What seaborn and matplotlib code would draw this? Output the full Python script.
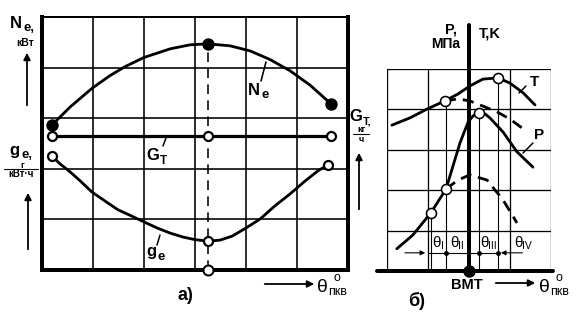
import numpy as np
import pandas as pd
import seaborn as sns
import matplotlib
matplotlib.use("Agg")
import matplotlib.pyplot as plt

sns.set_style("white")
plt.rcParams['font.family'] = ['Liberation Sans', 'DejaVu Sans']

# ---------------- panel a) data (grid units: 6 columns x 5 rows) -------------
ne_x = [0.20, 0.55, 0.98, 1.33, 1.63, 2.00, 2.51, 2.90, 3.25, 3.69, 4.08, 4.47, 4.86, 5.26, 5.67]
ne_y = [2.87, 3.22, 3.59, 3.84, 4.02, 4.20, 4.37, 4.45, 4.47, 4.43, 4.33, 4.16, 3.94, 3.65, 3.28]
gt_x = [0.20, 3.25, 5.67]
gt_y = [2.65, 2.65, 2.65]
ge_x = [0.20, 0.35, 0.55, 0.75, 0.98, 1.24, 1.49, 1.75, 2.00, 2.26, 2.51, 2.77, 3.00, 3.25,
        3.49, 3.73, 4.00, 4.28, 4.57, 4.86, 5.16, 5.41, 5.61]
ge_y = [2.25, 2.10, 1.94, 1.76, 1.54, 1.36, 1.19, 1.07, 0.95, 0.83, 0.73, 0.65, 0.60, 0.57,
        0.59, 0.67, 0.83, 1.01, 1.27, 1.50, 1.76, 1.96, 2.08]
opt_x = 3.25

# ---------------- panel б) data (x: grid columns around TDC, y: rows) --------
t_x = [-1.88, -1.44, -1.02, -0.59, -0.27, 0.02, 0.34, 0.71, 1.00, 1.32, 1.61]
t_y = [3.61, 3.79, 4.01, 4.21, 4.38, 4.58, 4.75, 4.78, 4.65, 4.41, 4.11]
t0_x = [-0.59, -0.27, 0.02, 0.34, 0.68, 1.00, 1.32]
t0_y = [4.21, 4.26, 4.21, 4.08, 3.94, 3.76, 3.52]
p_x = [-1.76, -1.37, -0.93, -0.56, -0.42, -0.22, -0.02, 0.10, 0.24, 0.39, 0.51, 0.83, 1.17, 1.56]
p_y = [0.55, 0.89, 1.44, 2.03, 2.50, 3.17, 3.69, 3.84, 3.91, 3.89, 3.79, 3.44, 2.95, 2.57]
p0_x = [-0.56, -0.27, 0.02, 0.44, 0.83, 1.17]
p0_y = [2.03, 2.25, 2.38, 2.25, 1.76, 1.19]
phase_x = [-0.93, -0.56, 0.24, 0.71]          # ends of phases θI..θIV
phase_top = [1.44, 4.21, 3.91, 4.78]
phase_labels = ["I", "II", "III", "IV"]
phase_lab_x = [-0.89, -0.46, 0.27, 1.10]      # left edge of each label

W, H = 586, 326
fig = plt.figure(figsize=(W / 100, H / 100), dpi=100)

def fa(l, r, t, b):
    return [l / W, (H - b) / H, (r - l) / W, (b - t) / H]

PX = 0.72  # points per pixel
K = 'black'

# ---------------- panel a ----------------
ax1 = fig.add_axes(fa(42, 348, 17, 270))
ax1.set_xlim(0, 6)
ax1.set_ylim(0, 5)
ax1.set_xticks(range(7))
ax1.set_yticks(range(6))
ax1.grid(True, color=K, lw=1.6 * PX)
ax1.tick_params(length=0, labelbottom=False, labelleft=False)
for s, w in [('left', 4), ('bottom', 4), ('right', 4), ('top', 2)]:
    ax1.spines[s].set_visible(True)
    ax1.spines[s].set_color(K)
    ax1.spines[s].set_linewidth(w * PX)

ax1.plot([opt_x, opt_x], [0, ne_y[8]], color=K, lw=1.6 * PX, dashes=(6, 4))
sns.lineplot(x=ne_x, y=ne_y, ax=ax1, color=K, lw=2.8 * PX, sort=False, estimator=None)
sns.lineplot(x=gt_x, y=gt_y, ax=ax1, color=K, lw=3.2 * PX, sort=False, estimator=None)
sns.lineplot(x=ge_x, y=ge_y, ax=ax1, color=K, lw=2.8 * PX, sort=False, estimator=None)
ax1.plot([ne_x[0], ne_x[8], ne_x[-1]], [ne_y[0], ne_y[8], ne_y[-1]], 'o', color=K, ms=11 * PX, zorder=5, clip_on=False)
ax1.plot(gt_x, gt_y, 'o', mfc='white', mec=K, mew=2.2 * PX, ms=9 * PX, zorder=5, clip_on=False)
ax1.plot([ge_x[0], ge_x[13], ge_x[-1]], [ge_y[0], ge_y[13], ge_y[-1]], 'o', mfc='white', mec=K, mew=2.2 * PX, ms=9 * PX, zorder=5, clip_on=False)
ax1.plot([opt_x], [0], 'o', mfc='white', mec=K, mew=2 * PX, ms=10 * PX, zorder=6, clip_on=False)

# ---------------- panel б ----------------
ax2 = fig.add_axes(fa(387, 551, 69, 271))
ax2.set_xlim(-2, 2)
ax2.set_ylim(0, 5)
ax2.set_xticks([-2, -1, 1, 2])
ax2.set_yticks([1, 2, 3, 4, 5])
ax2.grid(True, color=K, lw=1.3 * PX)
ax2.tick_params(length=0, labelbottom=False, labelleft=False)
for s in ax2.spines.values():
    s.set_visible(False)
ax2.set_facecolor('none')

for xv, top in zip(phase_x, phase_top):
    ax2.plot([xv, xv], [0, top], color=K, lw=1.1 * PX)
ax2.plot([0, 0], [0, 6.09], color=K, lw=4 * PX, clip_on=False, zorder=4)
ax2.plot([-2.24, 2.05], [0, 0], color=K, lw=4 * PX, clip_on=False, zorder=4)

sns.lineplot(x=t_x, y=t_y, ax=ax2, color=K, lw=2.8 * PX, sort=False, estimator=None)
sns.lineplot(x=t0_x, y=t0_y, ax=ax2, color=K, lw=2.8 * PX, sort=False, estimator=None, linestyle=(0, (4, 2.5)))
sns.lineplot(x=p_x, y=p_y, ax=ax2, color=K, lw=2.8 * PX, sort=False, estimator=None)
sns.lineplot(x=p0_x, y=p0_y, ax=ax2, color=K, lw=2.8 * PX, sort=False, estimator=None, linestyle=(0, (4, 2.5)))
ax2.plot([t_x[3], t_x[7]], [t_y[3], t_y[7]], 'o', mfc='white', mec=K, mew=1.6 * PX, ms=10 * PX, zorder=6)
ax2.plot([p_x[2], p_x[3], p_x[8]], [p_y[2], p_y[3], p_y[8]], 'o', mfc='white', mec=K, mew=1.6 * PX, ms=10 * PX, zorder=6)
ax2.plot([0], [0], 'o', color=K, ms=11 * PX, zorder=7, clip_on=False)

# phase arrows
yarr = 0.45
ax2.plot([-1.0, 0.71], [yarr, yarr], color=K, lw=1.1 * PX)
ax2.annotate('', xy=(-1.0, yarr), xytext=(-1.63, yarr),
             arrowprops=dict(arrowstyle='-|>', color=K, lw=1.1 * PX, mutation_scale=7))
ax2.annotate('', xy=(0.71, yarr), xytext=(1.37, yarr),
             arrowprops=dict(arrowstyle='-|>', color=K, lw=1.1 * PX, mutation_scale=7))
ax2.plot(phase_x[1:], [yarr] * 3, 'o', color=K, ms=3.5 * PX, zorder=6)
for lx, lab in zip(phase_lab_x, phase_labels):
    ax2.annotate('θ', (lx, 0.60), xytext=(0, 0), textcoords='offset pixels',
                 ha='left', va='baseline', fontsize=11, color=K)
    ax2.annotate(lab, (lx, 0.60), xytext=(8, -2), textcoords='offset pixels',
                 ha='left', va='baseline', fontsize=7.5, color=K)

# ---------------- overlay for labels ----------------
ov = fig.add_axes([0, 0, 1, 1], zorder=10)
ov.set_xlim(0, W)
ov.set_ylim(H, 0)
ov.axis('off')

def arrow(x0, y0, x1, y1, ms=10):
    ov.annotate('', xy=(x1, y1), xytext=(x0, y0),
                arrowprops=dict(arrowstyle='-|>', color=K, lw=1.8 * PX, mutation_scale=ms))

B = dict(color=K, fontweight='bold')
# Ne axis label
ov.text(10, 28, 'N', fontsize=12, ha='left', va='baseline', **B)
ov.text(23, 31, 'e,', fontsize=9.5, ha='left', va='baseline', **B)
ov.text(25, 46, 'кВт', fontsize=7.5, ha='center', va='baseline', **B)
arrow(27, 108, 27, 50)
# ge axis label
ov.text(9, 155, 'g', fontsize=12, ha='left', va='baseline', **B)
ov.text(21, 157.5, 'e,', fontsize=9.5, ha='left', va='baseline', **B)
ov.text(22, 167.5, 'г', fontsize=6.5, ha='center', va='baseline', **B)
ov.plot([4, 38], [169, 169], color=K, lw=1.1 * PX)
ov.text(21, 177, 'кВт·ч', fontsize=7, ha='center', va='baseline', **B)
arrow(28, 252, 28, 190)
# Gt axis label
ov.text(349, 121, 'G', fontsize=12, ha='left', va='baseline', **B)
ov.text(363, 125, 'T,', fontsize=8, ha='left', va='baseline', **B)
ov.text(361, 132, 'кг', fontsize=6.5, ha='center', va='baseline', **B)
ov.plot([353, 369], [134, 134], color=K, lw=1.1 * PX)
ov.text(361, 141.5, 'ч', fontsize=6.5, ha='center', va='baseline', **B)
arrow(359, 212, 359, 150)

# curve labels in a)
ov.text(248, 95, 'N', fontsize=12, ha='left', va='baseline', **B)
ov.text(261, 98, 'e', fontsize=9.5, ha='left', va='baseline', **B)
ov.plot([266, 261], [62, 81], color=K, lw=1.6 * PX)
ov.text(146, 160, 'G', fontsize=12, ha='left', va='baseline', **B)
ov.text(160, 164, 'T', fontsize=8.5, ha='left', va='baseline', **B)
ov.plot([166, 163], [138, 146], color=K, lw=1.5 * PX)
ov.text(146, 256, 'g', fontsize=12, ha='left', va='baseline', **B)
ov.text(157, 260, 'e', fontsize=9.5, ha='left', va='baseline', **B)
ov.plot([160, 157], [235, 245], color=K, lw=1.5 * PX)

ov.text(185, 296, 'а)', fontsize=13, ha='center', va='center', **B)
arrow(262, 284, 317, 284, ms=10)
ov.text(317, 292, 'θ', fontsize=14, ha='left', va='baseline', color=K)
ov.text(328, 295, 'пкв', fontsize=9, ha='left', va='baseline', color=K)
ov.text(337, 281, 'o', fontsize=9, ha='center', va='baseline', color=K)

# panel б labels
ov.text(451, 34, 'P,', fontsize=10.5, ha='center', va='baseline', **B)
ov.text(446, 48.5, 'МПа', fontsize=10, ha='center', va='baseline', **B)
ov.text(490, 37, 'T,K', fontsize=10.5, ha='center', va='baseline', **B)
ov.text(534, 86, 'T', fontsize=11, ha='center', va='baseline', **B)
ov.plot([519, 526], [93, 86], color=K, lw=1.5 * PX)
ov.text(539, 139, 'P', fontsize=11, ha='center', va='baseline', **B)
ov.plot([523, 533], [153, 143], color=K, lw=1.5 * PX)
ov.text(467, 289, 'ВМТ', fontsize=10.5, ha='center', va='baseline', **B)
arrow(493, 283, 538, 283, ms=10)
ov.text(539, 292, 'θ', fontsize=14, ha='left', va='baseline', color=K)
ov.text(550, 295, 'пкв', fontsize=9, ha='left', va='baseline', color=K)
ov.text(559, 281, 'o', fontsize=9, ha='center', va='baseline', color=K)
ov.text(417, 301, 'б)', fontsize=13, ha='center', va='center', **B)

fig.savefig('out.png', dpi=100)
